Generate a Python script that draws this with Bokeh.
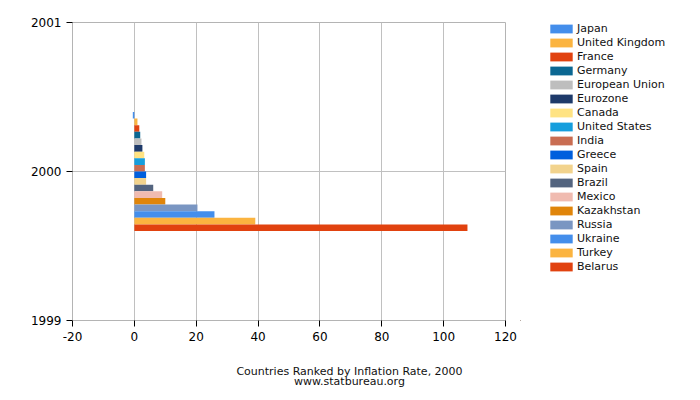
from bokeh.plotting import figure
from bokeh.layouts import row, column
from bokeh.models import ColumnDataSource, FixedTicker, Legend, LegendItem, Label
from bokeh.embed import file_html
from bokeh.resources import INLINE

countries = ["Japan", "United Kingdom", "France", "Germany", "European Union",
             "Eurozone", "Canada", "United States", "India", "Greece", "Spain",
             "Brazil", "Mexico", "Kazakhstan", "Russia", "Ukraine", "Turkey", "Belarus"]
inflation = [-0.5, 1.0, 1.6, 1.9, 2.3, 2.6, 3.2, 3.4, 3.4, 3.8, 3.8,
             6.1, 9.0, 10.0, 20.4, 25.9, 39.1, 107.7]
colors = ["#448EEB", "#FBB440", "#E1420F", "#0B6792", "#BEBEBE", "#1E3A6A",
          "#FFE383", "#169EDD", "#C96D52", "#005FDD", "#F2D38D", "#53647F",
          "#F0BBB0", "#E0850A", "#7A96C2", "#448EEB", "#FBB440", "#E1420F"]
year = 2000
x_ticks = [-20, 0, 20, 40, 60, 80, 100, 120]
y_ticks = [1999, 2000, 2001]
title_lines = ["Countries Ranked by Inflation Rate, 2000", "www.statbureau.org"]

n = len(countries)
group = 0.8
bar_h = group / n
ys = [year + group / 2 - (i + 0.5) * bar_h for i in range(n)]

src = ColumnDataSource(dict(country=countries, val=inflation, color=colors, y=ys,
                            zero=[0] * n))

TW = 692
H = 350      # upper row height
BH = 42      # bottom caption strip height
MW = 520
p = figure(width=MW, height=H, output_backend="svg", toolbar_location=None,
           x_range=(-20, 120), y_range=(1999, 2001),
           min_border_left=72, min_border_right=MW - 505, min_border_top=22,
           min_border_bottom=H - 320)

p.hbar(y="y", left="zero", right="val", height=bar_h, color="color", source=src,
       line_color=None)

p.xaxis.ticker = FixedTicker(ticks=x_ticks)
p.xaxis.major_label_overrides = {t: str(t) for t in x_ticks}
p.yaxis.ticker = FixedTicker(ticks=y_ticks)
for ax in (p.xaxis[0], p.yaxis[0]):
    ax.minor_tick_line_color = None
    ax.major_tick_line_color = "black"
    ax.major_tick_out = 6
    ax.major_tick_in = 0
    ax.axis_line_color = "#b4b4b4"
    ax.major_label_text_font = "DejaVu Sans"
    ax.major_label_text_font_size = "12px"
    ax.major_label_text_color = "black"

p.xgrid.grid_line_color = "#c0c0c0"
p.ygrid.grid_line_color = "#c0c0c0"
p.outline_line_color = "#b4b4b4"


def blank(w, h):
    f = figure(width=w, height=h, output_backend="svg", toolbar_location=None,
               x_range=(1000, 1001), y_range=(5000, 5001),
               x_axis_location=None, y_axis_location=None,
               min_border_left=0, min_border_right=0, min_border_top=0,
               min_border_bottom=0)
    f.grid.visible = False
    f.outline_line_color = None
    return f


# legend panel
pl = blank(TW - MW, H)
rl = pl.hbar(y="y", left="zero", right="val", height=bar_h, color="color", source=src,
             line_color=None)
items = [LegendItem(label=c, renderers=[rl], index=i) for i, c in enumerate(countries)]
legend = Legend(items=items, location=(550 - MW - 3, 47), padding=0, margin=0,
                border_line_color=None, background_fill_alpha=0,
                glyph_width=28, glyph_height=11, spacing=1, label_height=13,
                label_text_font="DejaVu Sans", label_text_font_size="11px",
                label_text_color="#111111", label_standoff=2)
pl.add_layout(legend, "center")

# caption strip
pt = blank(TW, BH)
for i, line in enumerate(title_lines):
    pt.add_layout(Label(x=349, y=21 - 10 * i, x_units="screen", y_units="screen",
                        text=line, text_align="center", text_baseline="middle",
                        text_font="DejaVu Sans", text_font_size="11px",
                        text_color="#111111"))

open("out.html", "w").write(file_html(column(row(p, pl), pt), INLINE))
